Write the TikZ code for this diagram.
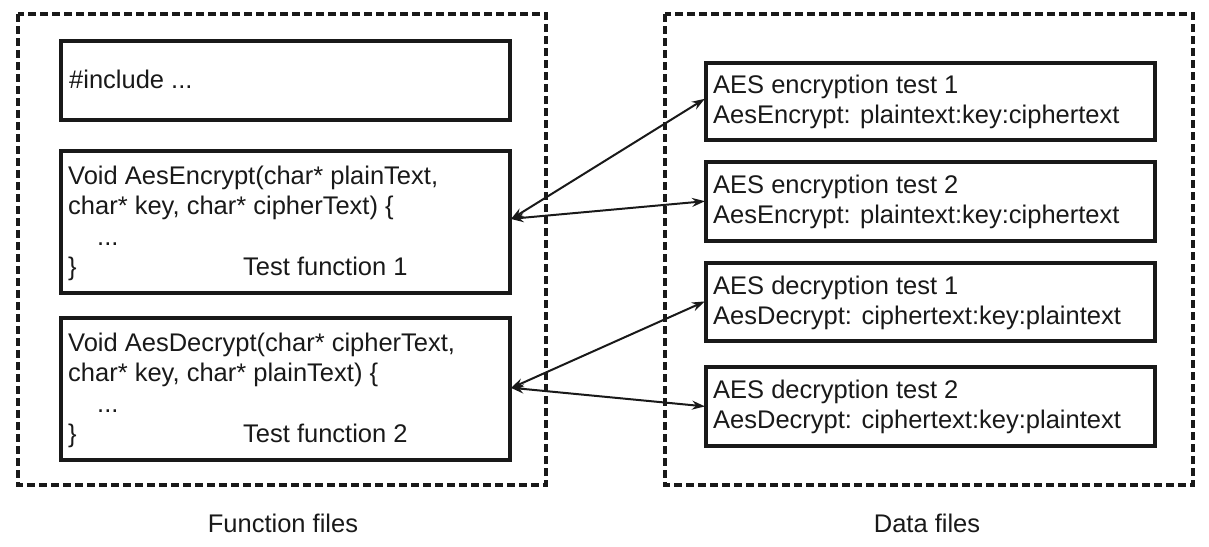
\documentclass[tikz,border=0pt]{standalone}
\usepackage{fontspec}
\setmainfont{Liberation Sans}
\usetikzlibrary{arrows.meta}
\begin{document}
\begin{tikzpicture}[x=1pt,y=-1pt,
  grp/.style={draw=black!90, line width=3.2pt, dash pattern=on 8pt off 4pt},
  box/.style={draw=black!90, line width=3.6pt, anchor=north west, inner sep=0pt, minimum width=449pt},
  txt/.style={anchor=base west, inner sep=0pt, font=\fontsize{25.5}{30}\selectfont, text=black!90},
  lbl/.style={anchor=base, inner sep=0pt, font=\fontsize{25.5}{30}\selectfont, text=black!90},
  link/.style={draw=black!90, line width=2pt, {Stealth[length=13pt,width=9pt]}-{Stealth[length=13pt,width=9pt]}, shorten <=-1pt, shorten >=-1pt}]
\useasboundingbox (0,0) rectangle (1209,546);
% groups
\draw[grp] (18,14) rectangle (546,485);
\draw[grp] (665,14) rectangle (1193,485);
% left boxes
\node[box, minimum height=79pt] (inc) at (59,39) {};
\node[txt] (inct) at (69,88) {\#include ...};
\node[box, minimum height=142pt] (f1) at (59,149) {};
\node[txt] (f1a) at (68,184) {Void AesEncrypt(char* plainText,};
\node[txt] (f1b) at (68,214) {char* key, char* cipherText) \{};
\node[txt] (f1c) at (97,245) {...};
\node[txt] (f1d) at (68,275) {\}};
\node[txt] (f1e) at (243,275) {Test function 1};
\node[box, minimum height=142pt] (f2) at (59,316) {};
\node[txt] (f2a) at (68,351) {Void AesDecrypt(char* cipherText,};
\node[txt] (f2b) at (68,381) {char* key, char* plainText) \{};
\node[txt] (f2c) at (97,412) {...};
\node[txt] (f2d) at (68,442) {\}};
\node[txt] (f2e) at (243,442) {Test function 2};
% right boxes
\node[box, minimum height=77pt] (d1) at (704,61) {};
\node[txt] (d1a) at (713,93) {AES encryption test 1};
\node[txt] (d1b) at (713,123) {AesEncrypt: plaintext:key:ciphertext};
\node[box, minimum height=79pt] (d2) at (704,160) {};
\node[txt] (d2a) at (713,193) {AES encryption test 2};
\node[txt] (d2b) at (713,223) {AesEncrypt: plaintext:key:ciphertext};
\node[box, minimum height=78pt] (d3) at (704,261) {};
\node[txt] (d3a) at (713,294) {AES decryption test 1};
\node[txt] (d3b) at (713,324) {AesDecrypt: ciphertext:key:plaintext};
\node[box, minimum height=79pt] (d4) at (704,365) {};
\node[txt] (d4a) at (713,398) {AES decryption test 2};
\node[txt] (d4b) at (713,428) {AesDecrypt: ciphertext:key:plaintext};
% connectors
\draw[link] ([yshift=3pt]f1.east) -- ([yshift=2pt]d1.west);
\draw[link] ([yshift=3pt]f1.east) -- (d2.west);
\draw[link] ([yshift=1pt]f2.east) -- (d3.west);
\draw[link] ([yshift=1pt]f2.east) -- (d4.west);
% labels
\node[lbl] (lf) at (283,532) {Function files};
\node[lbl] (ld) at (927,532) {Data files};
\end{tikzpicture}
\end{document}
